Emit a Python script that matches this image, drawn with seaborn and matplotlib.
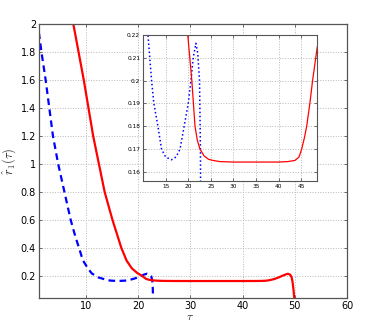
import numpy as np
import pandas as pd
import matplotlib
matplotlib.use("Agg")
import matplotlib.pyplot as plt
import seaborn as sns

# values (tau, r_hat)
red_tau = [7.0, 7.6, 8.6, 9.6, 10.5, 11.4, 12.5, 13.6, 15.1, 16.8, 17.8, 18.8,
           19.9, 20.8, 21.5, 22.0, 22.6, 23.5, 24.5, 25.5, 27.0, 30.0, 35.0,
           40.0, 42.0, 43.6, 44.5, 45.1, 45.7, 46.2, 46.9, 47.5, 48.2, 48.5, 48.7,
           49.1, 49.4, 49.6, 49.75, 49.9, 50.0]
red_r = [2.12, 2.0, 1.8, 1.6, 1.4, 1.2, 1.0, 0.8, 0.6, 0.4, 0.31, 0.255,
         0.22, 0.2, 0.18, 0.174, 0.17, 0.167, 0.1655, 0.165, 0.1645, 0.1643, 0.1643,
         0.1643, 0.1645, 0.165, 0.1665, 0.17, 0.175, 0.18, 0.19, 0.2, 0.21, 0.2143, 0.216,
         0.21, 0.19, 0.15, 0.1, 0.04, 0.0]

blue_tau = [1.0, 1.5, 2.3, 3.0, 3.7, 4.7, 5.9, 7.1, 8.0, 8.7, 9.4, 10.3, 11.1, 11.9,
            12.4, 13.3, 14.1, 15.0, 16.3, 17.3, 18.2, 19.1, 20.0, 20.6, 21.1, 21.7,
            22.1, 22.5, 22.7, 22.8, 22.9]
blue_r = [1.94, 1.8, 1.6, 1.4, 1.2, 1.0, 0.8, 0.6, 0.48, 0.4, 0.314, 0.26, 0.22, 0.2,
          0.19, 0.18, 0.17, 0.1665, 0.1653, 0.1665, 0.17, 0.18, 0.19, 0.2, 0.21, 0.2164,
          0.212, 0.2, 0.17, 0.12, 0.0]

main_xticks = [10, 20, 30, 40, 50, 60]
main_yticks = [0.2, 0.4, 0.6, 0.8, 1.0, 1.2, 1.4, 1.6, 1.8, 2.0]
inset_xticks = [15, 20, 25, 30, 35, 40, 45]
inset_yticks = [0.16, 0.17, 0.18, 0.19, 0.2, 0.21, 0.22]

red_df = pd.DataFrame({"tau": red_tau, "r": red_r})
blue_df = pd.DataFrame({"tau": blue_tau, "r": blue_r})

sns.set_style("white")
plt.rcParams["font.family"] = ["DejaVu Sans"]
plt.rcParams["mathtext.fontset"] = "cm"

fig = plt.figure(figsize=(3.70, 3.22), dpi=100)
ax = fig.add_axes([0.105, 0.0745, 0.833, 0.851])
ins = fig.add_axes([0.3865, 0.438, 0.4705, 0.453])


def style(a, size, lw):
    a.grid(True, linestyle=":", color="#b8b8b8", linewidth=0.7)
    for s in a.spines.values():
        s.set_color("#555555")
        s.set_linewidth(lw)
        s.set_visible(True)
    a.tick_params(direction="in", length=2.5, width=0.6, colors="#555555",
                  labelsize=size, labelcolor="black", top=True, right=True,
                  bottom=True, left=True, pad=2)


sns.lineplot(data=blue_df, x="tau", y="r", ax=ax, sort=False, estimator=None,
             color="#0000ff", linewidth=1.6)
ax.lines[-1].set_dashes((3.0, 2.0))
sns.lineplot(data=red_df, x="tau", y="r", ax=ax, sort=False, estimator=None,
             color="#ff0000", linewidth=1.6)
ax.set_xlim(1, 60)
ax.set_ylim(0.043, 2.0)
ax.set_xticks(main_xticks)
ax.set_yticks(main_yticks)
ax.set_yticklabels(["0.2", "0.4", "0.6", "0.8", "1", "1.2", "1.4", "1.6", "1.8", "2"])
style(ax, 7, 0.9)
ax.set_xlabel(r"$\tau$", fontsize=8.5, va="center")
ax.xaxis.set_label_coords(0.49, -0.068)
ax.set_ylabel(r"$\hat{r}_1(\tau)$", fontsize=9, labelpad=2)

sns.lineplot(data=blue_df, x="tau", y="r", ax=ins, sort=False, estimator=None,
             color="#0000ff", linewidth=1.1)
ins.lines[-1].set_linestyle(":")
sns.lineplot(data=red_df, x="tau", y="r", ax=ins, sort=False, estimator=None,
             color="#ff0000", linewidth=0.9)
ins.set_xlim(10, 48.5)
ins.set_ylim(0.156, 0.22)
ins.set_xticks(inset_xticks)
ins.set_yticks(inset_yticks)
ins.set_yticklabels(["0.16", "0.17", "0.18", "0.19", "0.2", "0.21", "0.22"])
style(ins, 4.2, 0.8)
ins.set_xlabel("")
ins.set_ylabel("")
ins.set_facecolor("white")

fig.savefig("out.png", dpi=100)
